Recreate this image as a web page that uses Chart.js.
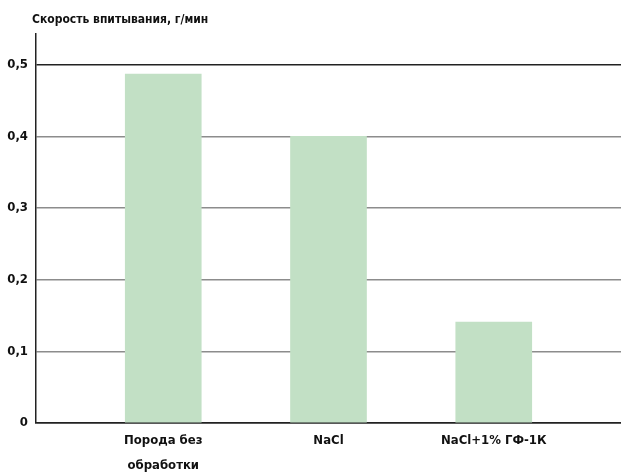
<!DOCTYPE html>
<html lang="ru">
<head>
<meta charset="UTF-8" />
<title>Скорость впитывания</title>
<style>
  body { margin: 0; padding: 0; background: #fff; }
  #wrap { width: 621px; height: 473px; position: relative; }
</style>
</head>
<body>
<div id="wrap"><canvas id="chart"></canvas></div>

<script src="https://cdn.jsdelivr.net/npm/chart.js"></script>
<script>
  // данные
  const categories = [['Порода без', 'обработки'], 'NaCl', 'NaCl+1% ГФ-1К'];
  const rates = [0.487, 0.40, 0.141];
  const yTicks = [0, 0.1, 0.2, 0.3, 0.4, 0.5];
  const yTickLabels = ['0', '0,1', '0,2', '0,3', '0,4', '0,5'];
  const titleText = 'Скорость впитывания, г/мин';

  const font = 'DejaVu Sans Condensed';

  // заголовок рисуем сами, чтобы он стоял у оси
  const titlePlugin = {
    id: 'leftTitle',
    afterDraw(chart) {
      const c = chart.ctx;
      c.save();
      c.font = 'bold 12px "' + font + '"';
      c.fillStyle = '#111';
      c.textBaseline = 'middle';
      c.fillText(titleText, 32, 20);
      c.restore();
    }
  };

  const ctx = document.getElementById('chart').getContext('2d');
  new Chart(ctx, {
    type: 'bar',
    data: {
      datasets: [{
        data: rates.map((v, i) => ({ x: i, y: v })),
        backgroundColor: '#c2e0c5',
        borderWidth: 0,
        barThickness: 76
      }]
    },
    options: {
      responsive: true,
      maintainAspectRatio: false,
      animation: false,
      layout: { padding: { top: 34, left: 0, right: 0, bottom: 0 } },
      plugins: {
        legend: { display: false },
        tooltip: { enabled: false }
      },
      scales: {
        x: {
          type: 'linear',
          offset: false,
          min: -0.77,
          max: 2.77,
          afterBuildTicks: s => { s.ticks = categories.map((c, i) => ({ value: i })); },
          afterFit: s => { s.height = 50; },
          grid: { display: false, drawTicks: false, offset: false },
          border: { color: '#222', width: 1.5 },
          ticks: {
            autoSkip: false,
            maxRotation: 0,
            padding: 5,
            color: '#111',
            font: { family: font, size: 13, weight: 'bold', lineHeight: 1.92 },
            callback: v => categories[v]
          }
        },
        y: {
          min: 0,
          max: 0.543,
          afterBuildTicks: s => { s.ticks = yTicks.map(v => ({ value: v })); },
          afterFit: s => { s.width = 36; },
          grid: {
            drawTicks: false,
            lineWidth: 1.5,
            color: c => (c.tick && c.tick.value === 0.5) || c.index === 0 ? '#222' : '#8c8c8c'
          },
          border: { color: '#222', width: 1.5 },
          ticks: {
            padding: 8,
            color: '#111',
            font: { family: font, size: 13, weight: 'bold' },
            callback: v => yTickLabels[yTicks.indexOf(v)]
          }
        }
      }
    },
    plugins: [titlePlugin]
  });
</script>
</body>
</html>
